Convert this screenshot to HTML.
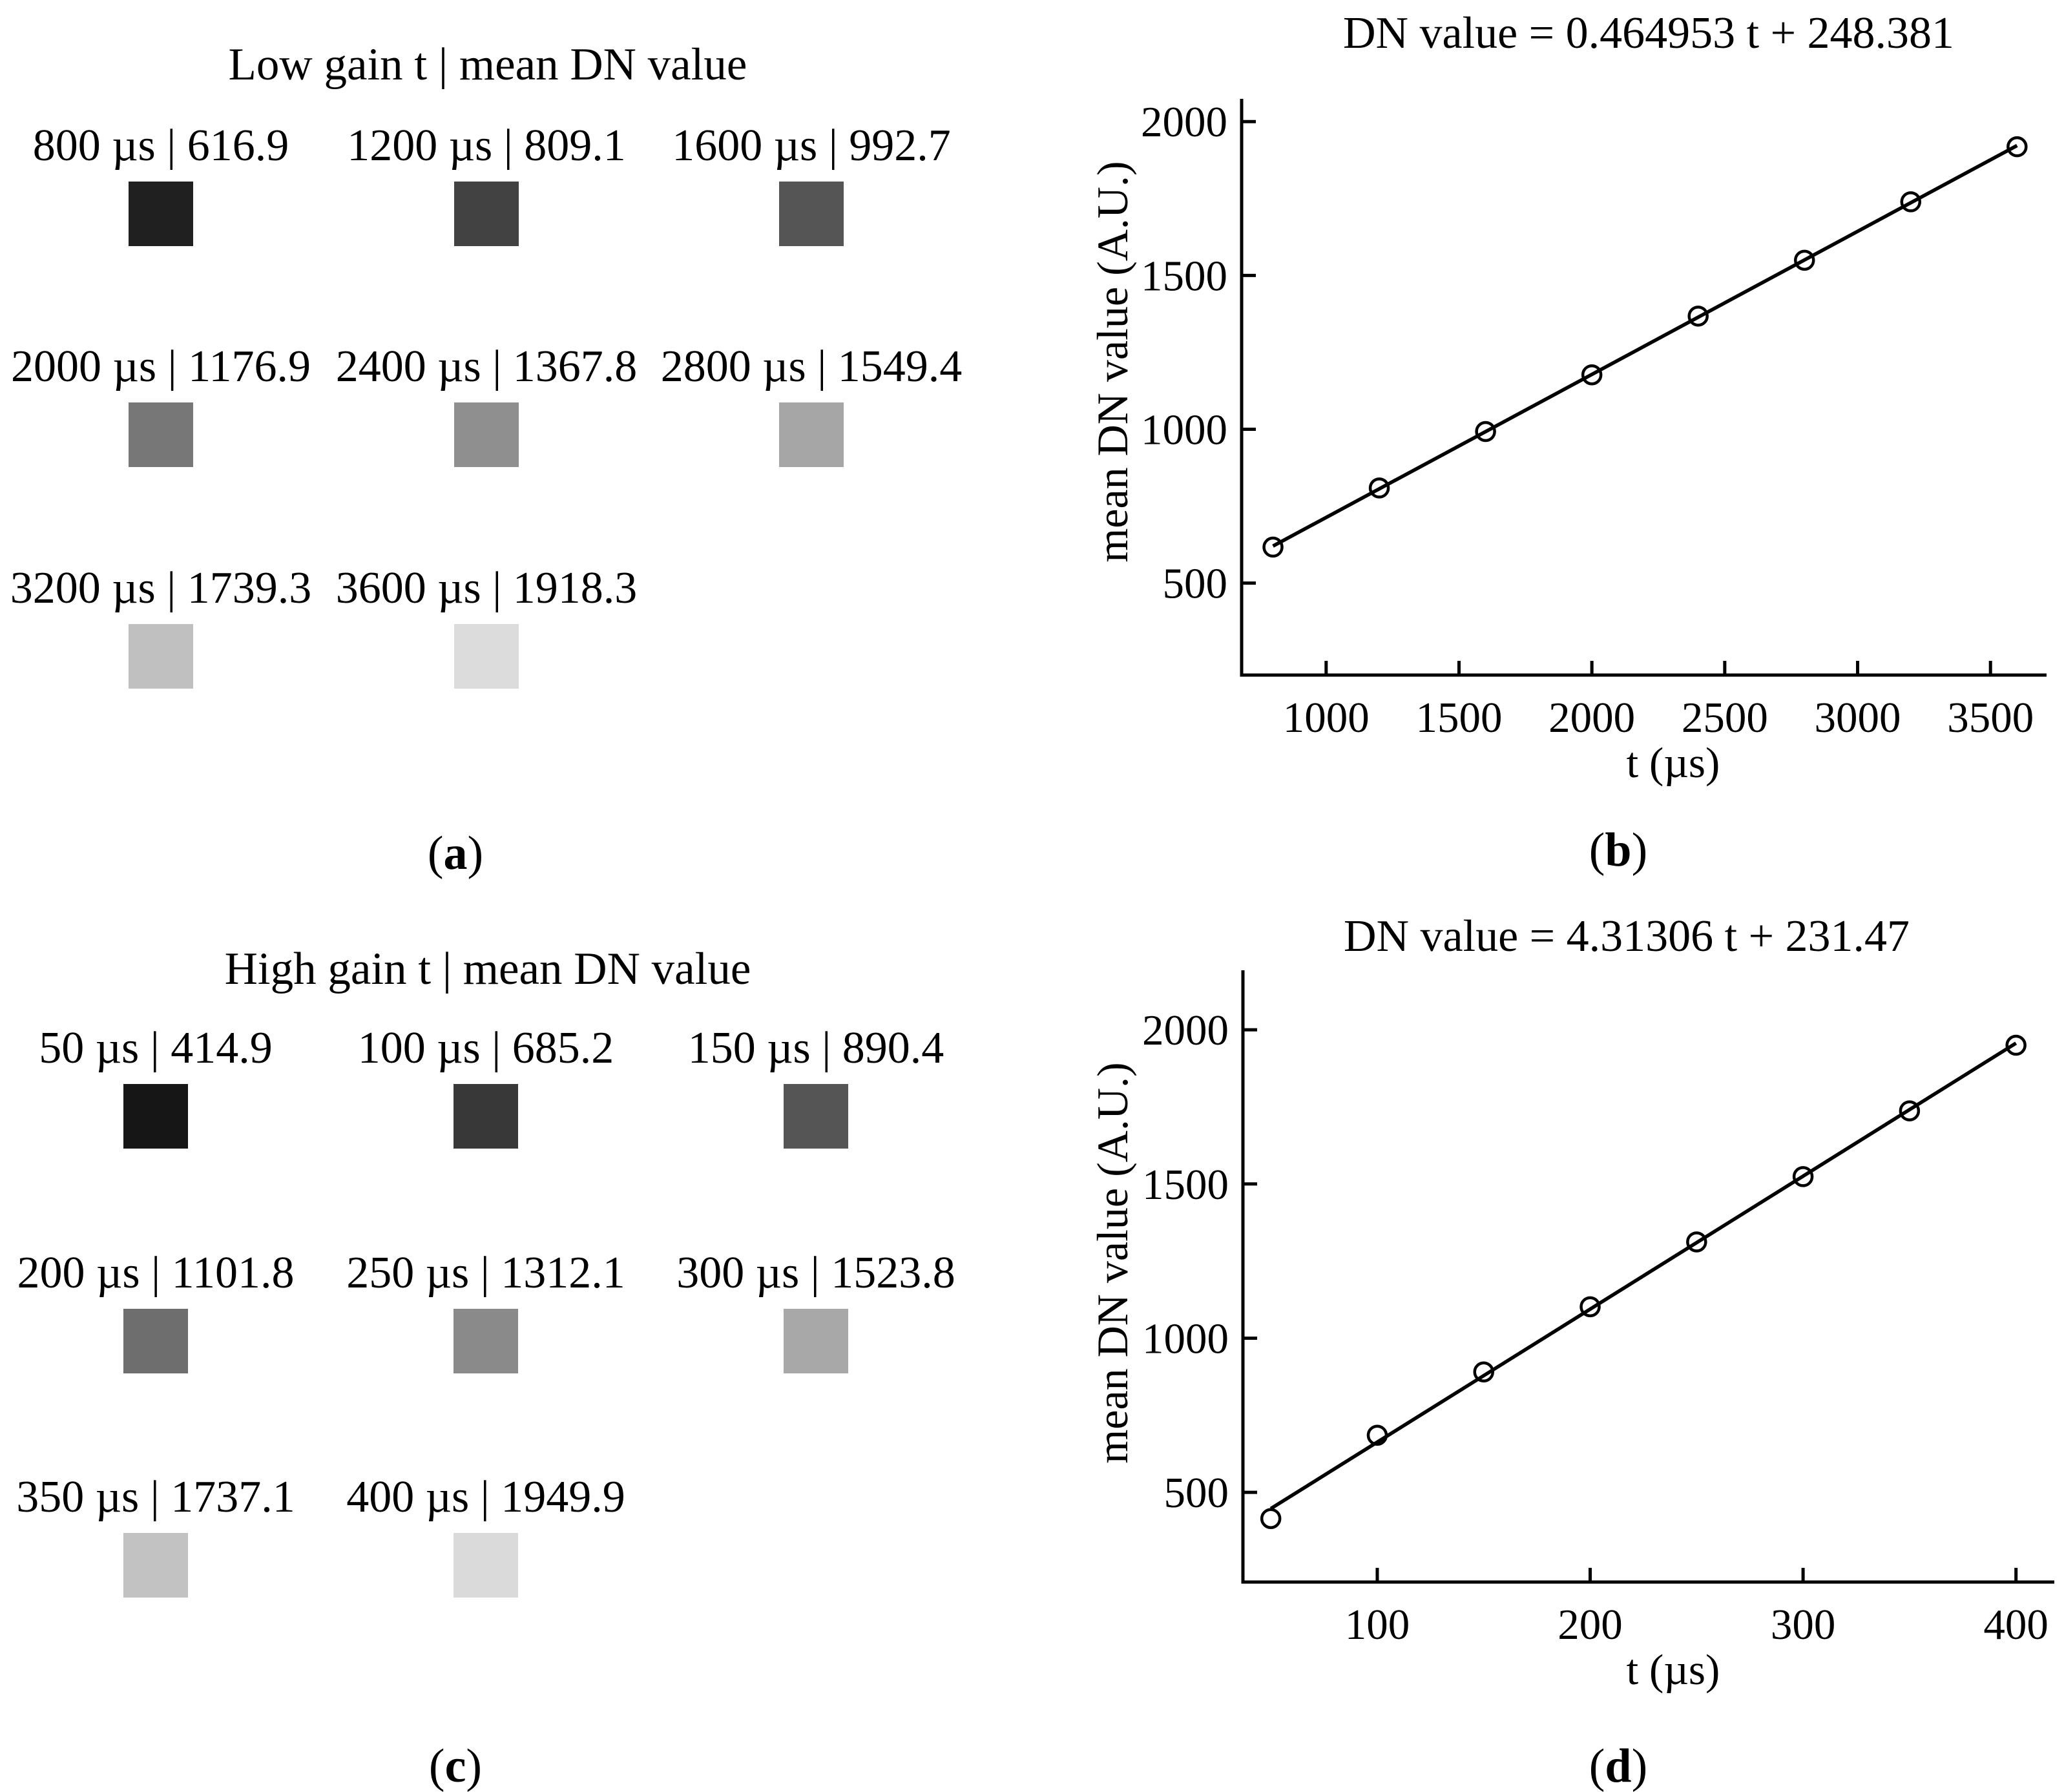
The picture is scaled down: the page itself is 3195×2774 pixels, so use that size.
<!DOCTYPE html>
<html><head><meta charset="utf-8">
<style>
html,body{margin:0;padding:0;background:#fff;}
svg{display:block;font-family:"Liberation Serif","Times New Roman",serif;}
</style></head>
<body>
<svg id="fig" width="3195" height="2774" viewBox="0 0 3195 2774" xmlns="http://www.w3.org/2000/svg">
<rect width="3195" height="2774" fill="#fff"/>
<g id="panelA"></g>
<g id="panelC"></g>
<g id="chartB"></g>
<g id="chartD"></g>
</svg>
<script>
// ---- data ----
const lowTimes = [800, 1200, 1600, 2000, 2400, 2800, 3200, 3600];
const lowDN = [616.9, 809.1, 992.7, 1176.9, 1367.8, 1549.4, 1739.3, 1918.3];
const lowGray = ['#202020', '#424242', '#555555', '#777777', '#8f8f8f', '#a6a6a6', '#c0c0c0', '#dcdcdc'];
const lowFit = [0.464953, 248.381];
const lowXTicks = [1000, 1500, 2000, 2500, 3000, 3500];

const highTimes = [50, 100, 150, 200, 250, 300, 350, 400];
const highDN = [414.9, 685.2, 890.4, 1101.8, 1312.1, 1523.8, 1737.1, 1949.9];
const highGray = ['#161616', '#383838', '#555555', '#6e6e6e', '#8a8a8a', '#a8a8a8', '#c2c2c2', '#dadada'];
const highFit = [4.31306, 231.47];
const highXTicks = [100, 200, 300, 400];

const yTicks = [500, 1000, 1500, 2000];

const NS = 'http://www.w3.org/2000/svg';
function mk(parent, tag, attrs, text) {
  const e = document.createElementNS(NS, tag);
  for (const k in attrs) e.setAttribute(k, attrs[k]);
  if (text !== undefined) e.textContent = text;
  parent.appendChild(e);
  return e;
}

// ---- patch panels ----
function patches(g, title, titleY, cols, baselines, times, dns, grays, letter, letterY) {
  const t = mk(g, 'text', {x: 755, y: titleY, 'font-size': 71, 'text-anchor': 'middle'}, title);
  
  
  times.forEach((tm, i) => {
    const cx = cols[i % 3], by = baselines[Math.floor(i / 3)];
    const lab = mk(g, 'text', {x: cx, y: by, 'font-size': 70, 'text-anchor': 'middle'}, tm + ' \u00b5s | ' + dns[i].toFixed(1));
    
    
    const r = mk(g, 'rect', {x: cx - 50, y: by + 33, width: 100, height: 100, fill: grays[i]});
    
    
  });
  const l = mk(g, 'text', {x: 705, y: letterY, 'font-size': 74, 'text-anchor': 'middle'});
  
  
  mk(l, 'tspan', {}, '(');
  mk(l, 'tspan', {'font-weight': 'bold'}, letter);
  mk(l, 'tspan', {}, ')');
}
patches(document.getElementById('panelA'), 'Low gain t | mean DN value', 123, [249, 753, 1256], [248, 590, 933], lowTimes, lowDN, lowGray, 'a', 1345);
patches(document.getElementById('panelC'), 'High gain t | mean DN value', 1523, [241, 752, 1263], [1645, 1993, 2340], highTimes, highDN, highGray, 'c', 2758);

// ---- charts ----
function chart(g, o) {
  const xs = v => o.left + (v - o.xmin) / (o.xmax - o.xmin) * (o.right - o.left);
  const ys = v => o.bottom - (v - o.ymin) / (o.ymax - o.ymin) * (o.bottom - o.top);
  const ax = mk(g, 'path', {d: `M${o.left},${o.top} V${o.bottom} H${o.right}`, fill: 'none', stroke: '#000', 'stroke-width': 5});
  
  
  yTicks.forEach(v => {
    const y = ys(v);
    const tk = mk(g, 'line', {x1: o.left, x2: o.left + 22, y1: y, y2: y, stroke: '#000', 'stroke-width': 5});
    
    
    const tl = mk(g, 'text', {x: o.left - 22, y: y + 23, 'font-size': 67, 'text-anchor': 'end'}, String(v));
    
    
  });
  o.xticks.forEach(v => {
    const x = xs(v);
    const tk = mk(g, 'line', {x1: x, x2: x, y1: o.bottom, y2: o.bottom - 22, stroke: '#000', 'stroke-width': 5});
    
    
    const tl = mk(g, 'text', {x: x, y: o.bottom + 88, 'font-size': 67, 'text-anchor': 'middle'}, String(v));
    
    
  });
  const t0 = o.times[0], t1 = o.times[o.times.length - 1];
  const fit = mk(g, 'line', {x1: xs(t0), y1: ys(o.fit[0] * t0 + o.fit[1]), x2: xs(t1), y2: ys(o.fit[0] * t1 + o.fit[1]), stroke: '#000', 'stroke-width': 5.5});
  
  
  o.times.forEach((t, i) => {
    const c = mk(g, 'circle', {cx: xs(t), cy: ys(o.dn[i]), r: 14, fill: 'none', stroke: '#000', 'stroke-width': 4.5});
    
    
  });
  const tt = mk(g, 'text', {x: o.titleX, y: o.titleY, 'font-size': 70, 'text-anchor': 'middle'}, 'DN value = ' + o.fit[0] + ' t + ' + o.fit[1]);
  
  
  const xt = mk(g, 'text', {x: 2590, y: o.bottom + 158, 'font-size': 67, 'text-anchor': 'middle'}, 't (\u00b5s)');
  
  
  const cy = o.ylabelY;
  const yt = mk(g, 'text', {x: 1745, y: cy, 'font-size': 68, 'text-anchor': 'middle', transform: `rotate(-90 1745 ${cy})`}, 'mean DN value (A.U.)');
  
  
  const l = mk(g, 'text', {x: 2505, y: o.letterY, 'font-size': 74, 'text-anchor': 'middle'});
  
  
  mk(l, 'tspan', {}, '(');
  mk(l, 'tspan', {'font-weight': 'bold'}, o.letter);
  mk(l, 'tspan', {}, ')');
}
chart(document.getElementById('chartB'), {left: 1922, right: 3168, top: 153, bottom: 1045, xmin: 682, xmax: 3711, ymin: 201, ymax: 2074,
  xticks: lowXTicks, times: lowTimes, dn: lowDN, fit: lowFit, titleX: 2552, titleY: 74, ylabelY: 560, letter: 'b', letterY: 1340});
chart(document.getElementById('chartD'), {left: 1924, right: 3180, top: 1502, bottom: 2449, xmin: 36.9, xmax: 418, ymin: 209, ymax: 2193,
  xticks: highXTicks, times: highTimes, dn: highDN, fit: highFit, titleX: 2518, titleY: 1472, ylabelY: 1955, letter: 'd', letterY: 2758});
</script>
</body></html>
